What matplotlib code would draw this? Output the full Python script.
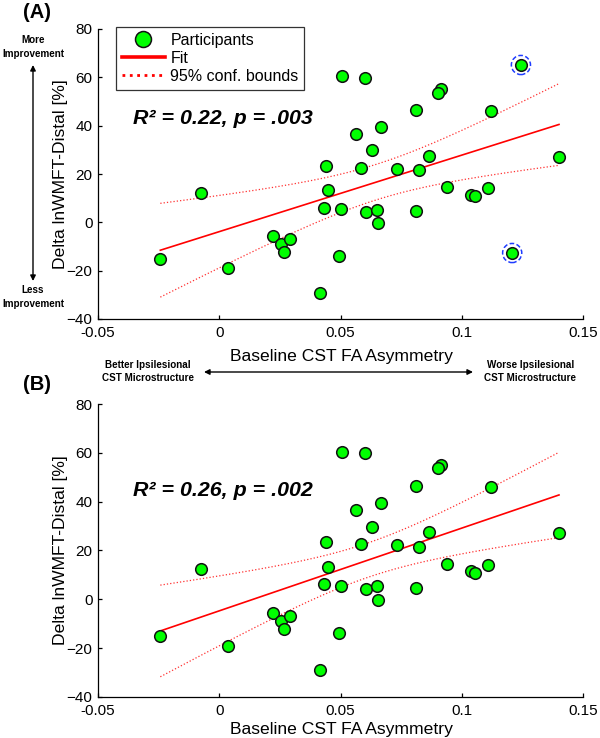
import numpy as np
import matplotlib
matplotlib.use("Agg")
import matplotlib.pyplot as plt
from matplotlib.lines import Line2D

plt.rcParams['font.family'] = ['Liberation Sans', 'DejaVu Sans']

# ---------------- data ----------------
fa_asym = [0.1244, 0.0506, 0.0602, 0.0916, 0.0903, 0.0813, 0.1120, 0.0564, 0.0666,
           0.0631, 0.0441, 0.0585, 0.0864, 0.0733, 0.0824, 0.1401, 0.0447, 0.0940,
           0.1107, 0.1040, 0.1053, 0.0433, 0.0501, 0.0606, 0.0651, 0.0656, 0.0810,
           0.0492, 0.1208, 0.0417, -0.0074, -0.0243, 0.0035, 0.0220, 0.0256, 0.0292,
           0.0266]
delta_wmft = [65.1, 60.5, 59.8, 55.2, 53.6, 46.4, 46.0, 36.4, 39.4,
              29.8, 23.3, 22.6, 27.4, 22.1, 21.5, 27.1, 13.4, 14.5,
              14.2, 11.4, 10.9, 6.1, 5.4, 4.2, 5.3, -0.3, 4.7,
              -13.9, -12.7, -29.1, 12.3, -15.2, -19.0, -5.6, -9.0, -6.8,
              -12.1]
outlier_idx = [0, 28]
stats_text = ["R² = 0.22, p = .003", "R² = 0.26, p = .002"]
panel_labels = ["(A)", "(B)"]
xticks = [-0.05, 0, 0.05, 0.1, 0.15]
xticklabels = ["-0.05", "0", "0.05", "0.1", "0.15"]
yticks = [-40, -20, 0, 20, 40, 60, 80]
t_crit = 2.03

W, H = 600, 738
fig = plt.figure(figsize=(W / 100, H / 100), dpi=100)


def fx(px):
    return px / W


def fy(py):
    return 1 - py / H


def style_axes(ax):
    ax.set_xlim(-0.05, 0.15)
    ax.set_ylim(-40, 80)
    ax.set_xticks(xticks)
    ax.set_xticklabels(xticklabels)
    ax.set_yticks(yticks)
    for s in ['top', 'right']:
        ax.spines[s].set_visible(False)
    for s in ['left', 'bottom']:
        ax.spines[s].set_linewidth(0.9)
    ax.tick_params(direction='in', length=3, width=0.9, labelsize=11, pad=4)
    ax.tick_params(axis='x', pad=5)


def draw_panel(ax, x, y, circ=None):
    x = np.asarray(x)
    y = np.asarray(y)
    n = len(x)
    b, a = np.polyfit(x, y, 1)
    xs = np.linspace(x.min(), x.max(), 200)
    yfit = a + b * xs
    resid = y - (a + b * x)
    s = np.sqrt(np.sum(resid ** 2) / (n - 2))
    sxx = np.sum((x - x.mean()) ** 2)
    hw = t_crit * s * np.sqrt(1.0 / n + (xs - x.mean()) ** 2 / sxx)
    ax.plot(xs, yfit, color='red', lw=1.2, zorder=2)
    ax.plot(xs, yfit + hw, color='#ff3030', lw=0.9, ls=':', zorder=2)
    ax.plot(xs, yfit - hw, color='#ff3030', lw=0.9, ls=':', zorder=2)
    ax.scatter(x, y, s=70, c='#00ff00', edgecolors='#111111', linewidths=1.1, zorder=3)
    if circ is not None:
        ax.scatter(circ[0], circ[1], s=190, facecolors='none', edgecolors='#1f3cff',
                   linewidths=1.1, linestyles=(0, (3, 1.6)), zorder=4)


xa = np.array(fa_asym)
ya = np.array(delta_wmft)
keep = np.array([i not in outlier_idx for i in range(len(xa))])

axA = fig.add_axes([fx(98), fy(319), fx(583) - fx(98), fy(29) - fy(319)])
style_axes(axA)
draw_panel(axA, xa, ya, circ=(xa[outlier_idx], ya[outlier_idx]))

axB = fig.add_axes([fx(98), fy(697), fx(583) - fx(98), fy(404) - fy(697)])
style_axes(axB)
draw_panel(axB, xa[keep], ya[keep])

# legend
handles = [Line2D([], [], ls='none', marker='o', markersize=11.5, markerfacecolor='#00ff00',
                  markeredgecolor='#111111', markeredgewidth=1.1),
           Line2D([], [], color='red', lw=2.6),
           Line2D([], [], color='red', lw=2.0, ls=':')]
leg = axA.legend(handles, ['Participants', 'Fit', '95% conf. bounds'],
                 loc='upper left', bbox_to_anchor=(fx(116), fy(27)),
                 bbox_transform=fig.transFigure, borderaxespad=0, fancybox=False,
                 fontsize=11.5, handlelength=2.7, handletextpad=0.35, labelspacing=0.2,
                 borderpad=0.35, framealpha=1)
leg.get_frame().set_edgecolor('#333333')
leg.get_frame().set_linewidth(0.9)

# stats text
fig.text(fx(133), fy(119), stats_text[0], fontsize=15.4, fontweight='bold',
         style='italic', ha='left', va='center')
fig.text(fx(133), fy(490), stats_text[1], fontsize=15.4, fontweight='bold',
         style='italic', ha='left', va='center')

# panel labels
fig.text(fx(37.5), fy(12), panel_labels[0], fontsize=14.5, fontweight='bold', ha='center', va='center')
fig.text(fx(37.5), fy(385), panel_labels[1], fontsize=14.5, fontweight='bold', ha='center', va='center')

# axis labels
ylab = "Delta lnWMFT-Distal [%]"
xlab = "Baseline CST FA Asymmetry"
fig.text(fx(60), fy(174), ylab, fontsize=12.6, rotation=90, ha='center', va='center')
fig.text(fx(60), fy(550), ylab, fontsize=12.6, rotation=90, ha='center', va='center')
fig.text(fx(341), fy(361), xlab, fontsize=12.6, ha='center', va='baseline')
fig.text(fx(341), fy(734), xlab, fontsize=12.6, ha='center', va='baseline')

# direction annotations
small = dict(fontsize=7.1, fontweight='bold', ha='center', va='center', linespacing=1.4)
fig.text(fx(33), fy(47), "More\nImprovement", **small)
fig.text(fx(33), fy(297), "Less\nImprovement", **small)
fig.text(fx(147.5), fy(371.5), "Better Ipsilesional\nCST Microstructure", **small)
fig.text(fx(530.5), fy(371.5), "Worse Ipsilesional\nCST Microstructure", **small)

arrowprops = dict(arrowstyle='<|-|>', color='black', lw=1.0, mutation_scale=8,
                  shrinkA=0, shrinkB=0)
fig.add_artist(matplotlib.patches.FancyArrowPatch((fx(33), fy(65)), (fx(33), fy(281)),
                                                  transform=fig.transFigure, **arrowprops))
fig.add_artist(matplotlib.patches.FancyArrowPatch((fx(204), fy(372)), (fx(473), fy(372)),
                                                  transform=fig.transFigure, **arrowprops))

fig.savefig("out.png", dpi=100)
